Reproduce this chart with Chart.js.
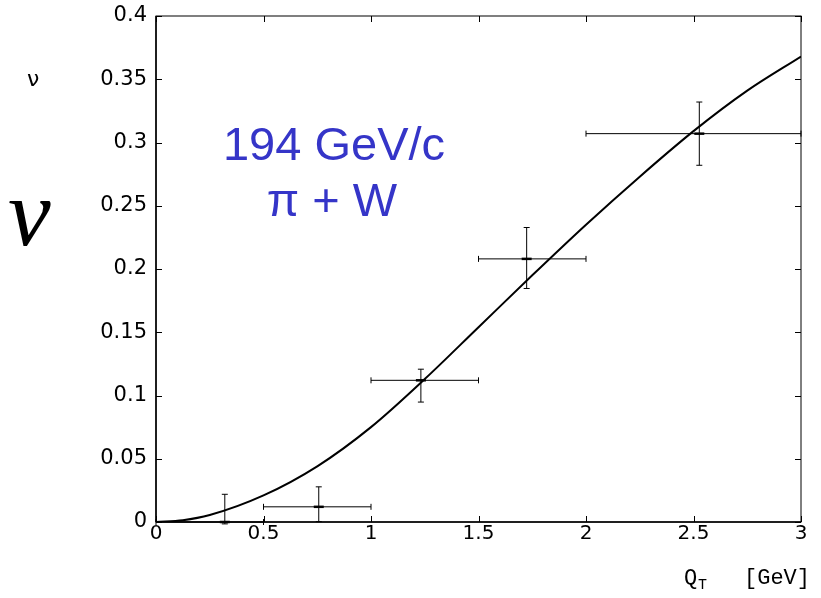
<!DOCTYPE html>
<html>
<head>
<meta charset="utf-8">
<script src="https://cdn.jsdelivr.net/npm/chart.js@4.4.0/dist/chart.umd.min.js"></script>
<style>
  body { margin: 0; background: #fff; }
  canvas { display: block; }
</style>
</head>
<body>
<canvas id="chart" width="821" height="598"></canvas>
<script>
// measured points (Q_T bins) with error bars
var ptX  = [0.32, 0.757, 1.232, 1.724, 2.527];
var ptY  = [0.0, 0.012, 0.112, 0.208, 0.307];
var xLo  = [0.0, 0.5, 1.0, 1.5, 2.0];
var xHi  = [0.5, 1.0, 1.5, 2.0, 3.0];
var yLo  = [-0.0015, 0.0003, 0.0948, 0.1846, 0.282];
var yHi  = [0.0219, 0.0278, 0.1208, 0.2328, 0.332];

// theory curve
var curveX = [0, 0.125, 0.25, 0.5, 0.75, 1.0, 1.25, 1.5, 1.75, 2.0, 2.25, 2.5, 2.75, 3.0];
var curveY = [0, 0.0014, 0.0055, 0.021, 0.044, 0.075, 0.113, 0.154, 0.195, 0.235, 0.273, 0.309, 0.341, 0.368];

var xTicks = [0, 0.5, 1, 1.5, 2, 2.5, 3];
var yTicks = [0, 0.05, 0.1, 0.15, 0.2, 0.25, 0.3, 0.35, 0.4];

var tickFont = '"DejaVu Sans", Verdana, sans-serif';
var fmt = function (v) { return String(Number(v.toFixed(2))); };

// frame, inward ticks, error bars and text labels
var decorations = {
  id: 'decorations',
  beforeDatasetsDraw: function (chart) {
    var ctx = chart.ctx, xs = chart.scales.x, ys = chart.scales.y;
    ctx.save();
    ctx.strokeStyle = '#000';
    ctx.lineWidth = 1;
    for (var i = 0; i < ptX.length; i++) {
      var cx = xs.getPixelForValue(ptX[i]);
      var cy = ys.getPixelForValue(ptY[i]);
      var x1 = xs.getPixelForValue(xLo[i]), x2 = xs.getPixelForValue(xHi[i]);
      var y1 = ys.getPixelForValue(yLo[i]), y2 = ys.getPixelForValue(yHi[i]);
      ctx.beginPath();
      ctx.moveTo(x1, cy); ctx.lineTo(x2, cy);
      ctx.moveTo(x1, cy - 3); ctx.lineTo(x1, cy + 3);
      ctx.moveTo(x2, cy - 3); ctx.lineTo(x2, cy + 3);
      ctx.moveTo(cx, y1); ctx.lineTo(cx, y2);
      ctx.moveTo(cx - 3, y1); ctx.lineTo(cx + 3, y1);
      ctx.moveTo(cx - 3, y2); ctx.lineTo(cx + 3, y2);
      ctx.stroke();
      ctx.lineWidth = 2.5;
      ctx.beginPath();
      ctx.moveTo(cx - 5, cy); ctx.lineTo(cx + 5, cy);
      ctx.stroke();
      ctx.lineWidth = 1;
    }
    ctx.restore();
  },
  afterDraw: function (chart) {
    var ctx = chart.ctx, a = chart.chartArea, xs = chart.scales.x, ys = chart.scales.y;
    ctx.save();
    ctx.strokeStyle = '#000';
    ctx.lineWidth = 1;
    ctx.strokeRect(a.left, a.top, a.right - a.left, a.bottom - a.top);
    ctx.lineWidth = 1.5;
    ctx.beginPath();
    ctx.moveTo(a.left, a.bottom); ctx.lineTo(a.right, a.bottom);
    ctx.moveTo(a.left, a.top); ctx.lineTo(a.left, a.bottom);
    ctx.stroke();
    ctx.lineWidth = 1;
    ctx.beginPath();
    xTicks.forEach(function (t) {
      var px = Math.round(xs.getPixelForValue(t)) + 0.5;
      ctx.moveTo(px, a.bottom); ctx.lineTo(px, a.bottom - 6);
      ctx.moveTo(px, a.top); ctx.lineTo(px, a.top + 6);
    });
    yTicks.forEach(function (t) {
      var py = Math.round(ys.getPixelForValue(t)) + 0.5;
      ctx.moveTo(a.left, py); ctx.lineTo(a.left + 6, py);
      ctx.moveTo(a.right, py); ctx.lineTo(a.right - 6, py);
    });
    ctx.stroke();

    // annotation
    ctx.fillStyle = '#3535c8';
    ctx.font = '47px "Liberation Sans", Arial, sans-serif';
    ctx.textAlign = 'center';
    ctx.textBaseline = 'alphabetic';
    ctx.fillText('194 GeV/c', 334, 160);
    ctx.fillText('\u03c0 + W', 332, 216);

    // y labels
    ctx.fillStyle = '#000';
    ctx.font = '22px "DejaVu Sans", sans-serif';
    ctx.textAlign = 'left';
    ctx.fillText('\u03bd', 27, 86);
    ctx.font = 'italic 96px "Liberation Serif", "Times New Roman", serif';
    ctx.fillText('\u03bd', 8, 245);

    // x label
    ctx.font = '22px "Liberation Mono", "Courier New", monospace';
    ctx.fillText('Q', 684, 584);
    ctx.font = '15px "Liberation Mono", "Courier New", monospace';
    ctx.fillText('T', 698, 589);
    ctx.font = '22px "Liberation Mono", "Courier New", monospace';
    ctx.fillText('[GeV]', 744, 584);
    ctx.restore();
  }
};

new Chart(document.getElementById('chart'), {
  type: 'scatter',
  data: {
    datasets: [
      {
        type: 'line',
        data: curveX.map(function (x, i) { return { x: x, y: curveY[i] }; }),
        borderColor: '#000',
        borderWidth: 2,
        pointRadius: 0,
        cubicInterpolationMode: 'monotone',
        fill: false
      },
      {
        data: ptX.map(function (x, i) { return { x: x, y: ptY[i] }; }),
        pointRadius: 0,
        borderColor: '#000',
        backgroundColor: '#000'
      }
    ]
  },
  options: {
    responsive: false,
    animation: false,
    events: [],
    layout: { padding: { top: 16, right: 20, left: 0, bottom: 0 } },
    plugins: { legend: { display: false }, tooltip: { enabled: false } },
    scales: {
      x: {
        type: 'linear',
        min: 0, max: 3,
        afterFit: function (s) { s.height = 76; s.paddingLeft = 0; s.paddingRight = 0; },
        afterBuildTicks: function (s) { s.ticks = xTicks.map(function (v) { return { value: v }; }); },
        grid: { display: false, drawTicks: false },
        border: { display: false },
        ticks: {
          padding: 0,
          color: '#000',
          font: { family: tickFont, size: 20 },
          maxRotation: 0,
          callback: fmt
        }
      },
      y: {
        type: 'linear',
        min: 0, max: 0.4,
        afterFit: function (s) { s.width = 156; s.paddingTop = 0; s.paddingBottom = 0; },
        afterBuildTicks: function (s) { s.ticks = yTicks.map(function (v) { return { value: v }; }); },
        grid: { display: false, drawTicks: false },
        border: { display: false },
        ticks: {
          padding: 9,
          color: '#000',
          font: { family: tickFont, size: 21 },
          callback: fmt
        }
      }
    }
  },
  plugins: [decorations]
});
</script>
</body>
</html>
